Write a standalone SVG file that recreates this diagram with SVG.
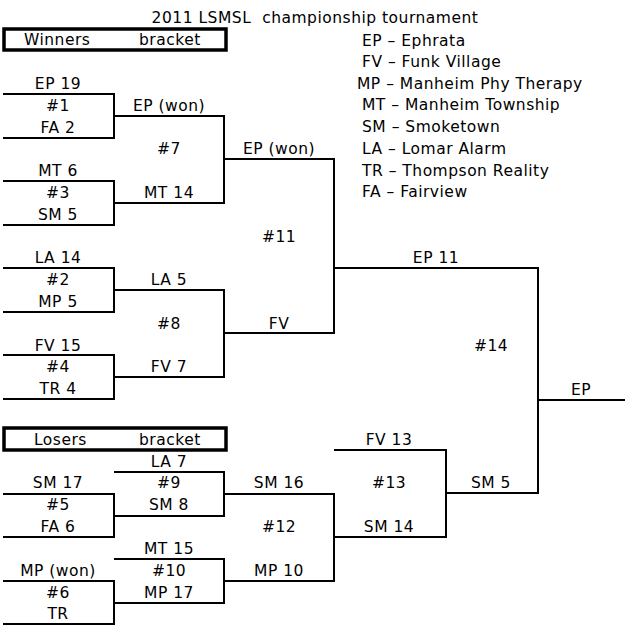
<svg xmlns="http://www.w3.org/2000/svg" width="625" height="639" viewBox="0 0 625 639">
<style>
text{font-family:"DejaVu Sans",Verdana,sans-serif;font-size:15.5px;letter-spacing:0.5px;fill:#000}
.c{text-anchor:middle}
.l{fill:none;stroke:#000;stroke-width:2}
.box{fill:#fff;stroke:#000;stroke-width:3.5}
</style>
<rect width="625" height="639" fill="#fff"/>
<text class="c" x="315" y="23" xml:space="preserve">2011 LSMSL  championship tournament</text>
<g id="winners-box"><rect class="box" x="4" y="29" width="222" height="21"/><text x="24" y="45">Winners</text><text x="139" y="45">bracket</text></g>
<g id="losers-box"><rect class="box" x="4" y="428" width="222" height="22"/><text x="34" y="445">Losers</text><text x="139" y="445">bracket</text></g>
<g id="legend">
<text x="362" y="46">EP – Ephrata</text>
<text x="362" y="67">FV – Funk Village</text>
<text x="357" y="89">MP – Manheim Phy Therapy</text>
<text x="362" y="110">MT – Manheim Township</text>
<text x="362" y="132">SM – Smoketown</text>
<text x="362" y="154">LA – Lomar Alarm</text>
<text x="362" y="176">TR – Thompson Reality</text>
<text x="362" y="197">FA – Fairview</text>
</g>
<g id="connectors">
<path class="l" d="M3 94H114V138H3"/>
<path class="l" d="M3 181H114V225H3"/>
<path class="l" d="M3 268H114V312H3"/>
<path class="l" d="M3 355H114V399H3"/>
<path class="l" d="M114 116H224V203H114"/>
<path class="l" d="M114 290H224V377H114"/>
<path class="l" d="M224 159H334V333H224"/>
<path class="l" d="M334 268H538V493H446"/>
<path class="l" d="M538 400H625"/>
<path class="l" d="M3 494H114V537H3"/>
<path class="l" d="M3 581H114V624H3"/>
<path class="l" d="M114 472H224V516H114"/>
<path class="l" d="M114 559H224V603H114"/>
<path class="l" d="M224 494H334V581H224"/>
<path class="l" d="M334 450H446V537H334"/>
</g>
<g id="g1"><text class="c" x="58" y="89">EP 19</text><text class="c" x="58" y="111">#1</text><text class="c" x="58" y="133">FA 2</text></g>
<g id="g3"><text class="c" x="58" y="176">MT 6</text><text class="c" x="58" y="198">#3</text><text class="c" x="58" y="220">SM 5</text></g>
<g id="g2"><text class="c" x="58" y="263">LA 14</text><text class="c" x="58" y="285">#2</text><text class="c" x="58" y="307">MP 5</text></g>
<g id="g4"><text class="c" x="58" y="351">FV 15</text><text class="c" x="58" y="372">#4</text><text class="c" x="58" y="394">TR 4</text></g>
<g id="g7"><text class="c" x="169" y="111">EP (won)</text><text class="c" x="169" y="154">#7</text><text class="c" x="169" y="198">MT 14</text></g>
<g id="g8"><text class="c" x="169" y="285">LA 5</text><text class="c" x="169" y="329">#8</text><text class="c" x="169" y="372">FV 7</text></g>
<g id="g11"><text class="c" x="279" y="154">EP (won)</text><text class="c" x="279" y="242">#11</text><text class="c" x="279" y="329">FV</text></g>
<g id="g14"><text class="c" x="436" y="263">EP 11</text><text class="c" x="491" y="351">#14</text><text class="c" x="491" y="488">SM 5</text></g>
<g id="final"><text class="c" x="581" y="395">EP</text></g>
<g id="g5"><text class="c" x="58" y="488">SM 17</text><text class="c" x="58" y="510">#5</text><text class="c" x="58" y="532">FA 6</text></g>
<g id="g6"><text class="c" x="58" y="576">MP (won)</text><text class="c" x="58" y="598">#6</text><text class="c" x="58" y="619">TR</text></g>
<g id="g9"><text class="c" x="169" y="467">LA 7</text><text class="c" x="169" y="488">#9</text><text class="c" x="169" y="510">SM 8</text></g>
<g id="g10"><text class="c" x="169" y="554">MT 15</text><text class="c" x="169" y="576">#10</text><text class="c" x="169" y="598">MP 17</text></g>
<g id="g12"><text class="c" x="279" y="488">SM 16</text><text class="c" x="279" y="532">#12</text><text class="c" x="279" y="576">MP 10</text></g>
<g id="g13"><text class="c" x="389" y="445">FV 13</text><text class="c" x="389" y="488">#13</text><text class="c" x="389" y="532">SM 14</text></g>
</svg>
